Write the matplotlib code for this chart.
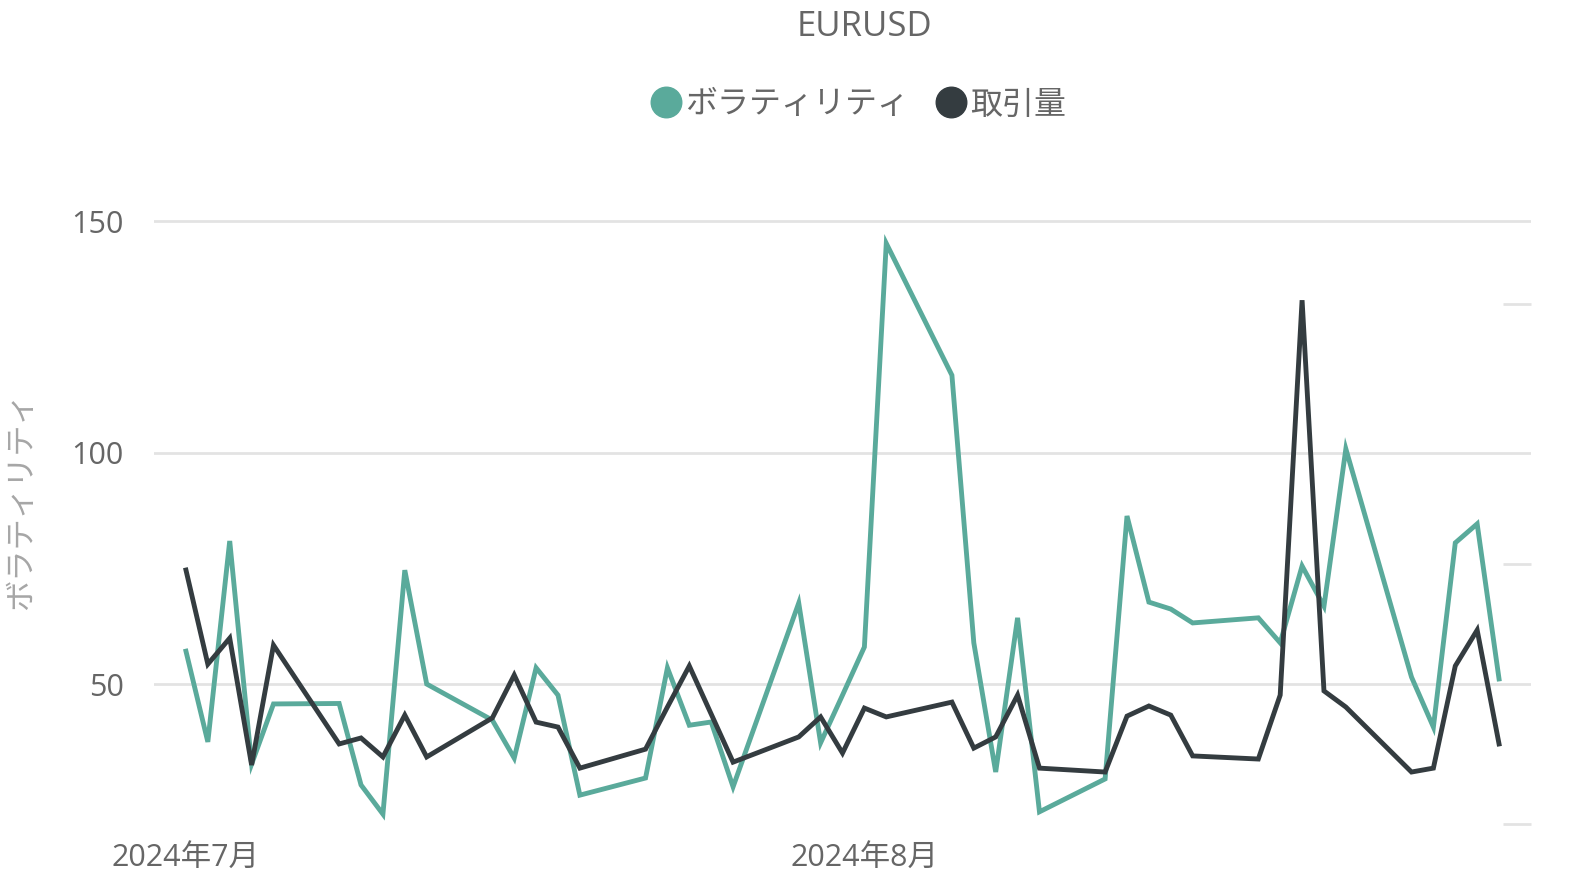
import numpy as np
import pandas as pd
import matplotlib
matplotlib.use("Agg")
import matplotlib.pyplot as plt
from matplotlib.lines import Line2D

plt.rcParams['font.family'] = ['Open Sans', 'Noto Sans CJK JP', 'DejaVu Sans']

# trading days, Jul-Aug 2024
dates = pd.to_datetime([
    "2024-07-01", "2024-07-02", "2024-07-03", "2024-07-04", "2024-07-05",
    "2024-07-08", "2024-07-09", "2024-07-10", "2024-07-11", "2024-07-12",
    "2024-07-15", "2024-07-16", "2024-07-17", "2024-07-18", "2024-07-19",
    "2024-07-22", "2024-07-23", "2024-07-24", "2024-07-25", "2024-07-26",
    "2024-07-29", "2024-07-30", "2024-07-31", "2024-08-01", "2024-08-02",
    "2024-08-05", "2024-08-06", "2024-08-07", "2024-08-08", "2024-08-09",
    "2024-08-12", "2024-08-13", "2024-08-14", "2024-08-15", "2024-08-16",
    "2024-08-19", "2024-08-20", "2024-08-21", "2024-08-22", "2024-08-23",
    "2024-08-26", "2024-08-27", "2024-08-28", "2024-08-29", "2024-08-30",
])

volatility = [
    57.1, 37.5, 80.9, 32.7, 45.7,
    45.8, 28.2, 21.9, 74.6, 50.0,
    42.2, 34.0, 53.5, 47.6, 26.0,
    29.7, 53.5, 41.1, 41.8, 27.8,
    67.5, 37.3, 47.6, 58.0, 145.2,
    116.7, 58.9, 31.0, 64.3, 22.4,
    29.5, 86.3, 67.7, 66.2, 63.2,
    64.3, 58.9, 75.5, 66.8, 100.8,
    51.5, 40.7, 80.5, 84.6, 51.1,
]

volume = [
    97.7, 61.5, 71.5, 22.7, 68.8,
    30.8, 33.1, 25.8, 41.9, 25.8,
    40.8, 57.3, 39.2, 37.3, 21.5,
    28.8, 45.0, 60.8, 42.3, 23.8,
    33.5, 41.2, 27.3, 44.6, 41.2,
    46.9, 29.2, 33.5, 49.6, 21.5,
    20.0, 41.5, 45.4, 41.9, 26.2,
    25.0, 49.6, 201.5, 51.2, 45.0,
    20.0, 21.5, 60.8, 74.6, 30.8,
]

left_ticks = [50, 100, 150]
right_ticks = [0, 100, 200]
month_ticks = pd.to_datetime(["2024-07-01", "2024-08-01"])
month_labels = ["2024年7月", "2024年8月"]

teal = "#5aaa9b"
dark = "#343c40"
grey_text = "#666666"

fig = plt.figure(figsize=(15.69, 8.85), dpi=100)
ax = fig.add_axes([154 / 1569, 55 / 885, (1531 - 154) / 1569, 620 / 885])
ax2 = ax.twinx()

ax.plot(dates, volatility, color=teal, lw=3.5, solid_joinstyle='miter', zorder=2)
ax2.plot(dates, volume, color=dark, lw=3.5, solid_joinstyle='miter', zorder=3)

pad = pd.Timedelta(days=1.46)
ax.set_xlim(dates[0] - pad, dates[-1] + pad)
ax.set_ylim(18.47, 152.4)
ax2.set_ylim(-2.3, 236.2)

ax.set_yticks(left_ticks)
ax.yaxis.grid(True, color="#e3e3e3", lw=2)
ax.set_axisbelow(True)
ax.tick_params(axis='y', length=0, pad=22, labelsize=22, labelcolor=grey_text)
ax.set_xticks(month_ticks)
ax.set_xticklabels(month_labels)
ax.tick_params(axis='x', length=0, pad=9, labelsize=22, labelcolor=grey_text)

ax2.set_yticks(right_ticks)
ax2.set_yticklabels([])
ax2.tick_params(axis='y', direction='in', length=20, width=2, color="#e3e3e3")

for a in (ax, ax2):
    for s in a.spines.values():
        s.set_visible(False)

fig.text(22 / 1569, 1 - 501 / 885, "ボラティリティ", rotation=90, ha='center',
         va='center', fontsize=22.5, color="#a6a6a6")

fig.text(864 / 1569, 1 - 27 / 885, "EURUSD", ha='center', va='center',
         fontsize=25, color=grey_text)

handles = [
    Line2D([], [], marker='o', ls='none', ms=22, color=teal),
    Line2D([], [], marker='o', ls='none', ms=22, color=dark),
]
fig.legend(handles, ["ボラティリティ", "取引量"], loc='center',
           bbox_to_anchor=(858 / 1569, 1 - 105 / 885), ncol=2, frameon=False,
           fontsize=23, labelcolor=grey_text, handletextpad=0.1,
           columnspacing=0.8, handlelength=1.0)

fig.savefig("out.png", dpi=100)
